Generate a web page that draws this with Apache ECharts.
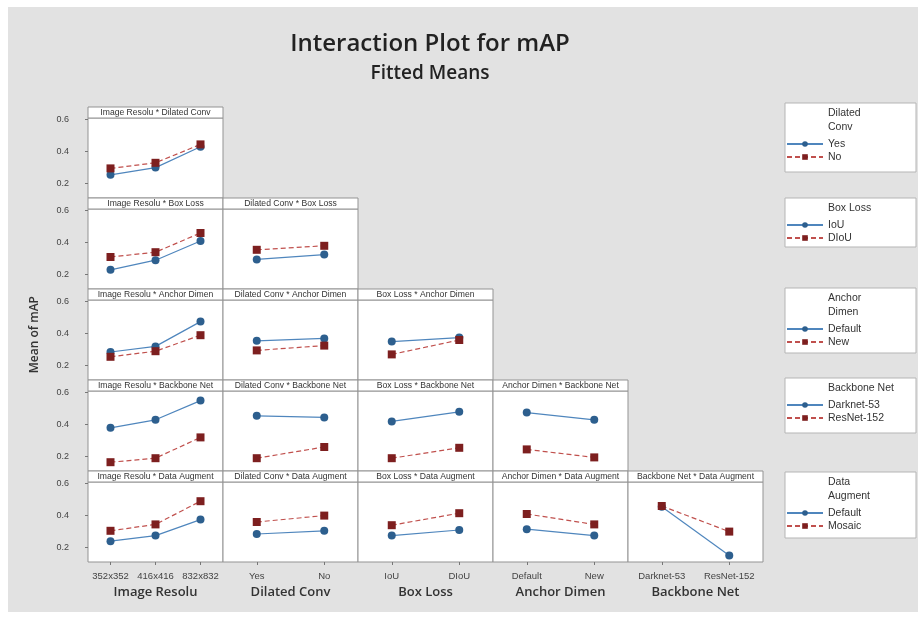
<!DOCTYPE html>
<html>
<head>
<meta charset="utf-8">
<title>Interaction Plot for mAP</title>
<script src="https://cdn.jsdelivr.net/npm/echarts@6/dist/echarts.min.js"></script>
<style>
  html, body { margin: 0; padding: 0; background: #fff; }
  #main { width: 918px; height: 620px; }
</style>
</head>
<body>
<div id="main"></div>
<script>
// factor levels
const imageResolu = ['352x352', '416x416', '832x832']
const dilatedConv = ['Yes', 'No']
const boxLoss = ['IoU', 'DIoU']
const anchorDimen = ['Default', 'New']
const backboneNet = ['Darknet-53', 'ResNet-152']
const dataAugment = ['Default', 'Mosaic']

// fitted means: [first level of trace factor, second level]
const resoDilated = [[0.255, 0.30, 0.43], [0.295, 0.33, 0.445]]

const resoBox = [[0.23, 0.29, 0.41], [0.31, 0.34, 0.46]]
const dilatedBox = [[0.295, 0.325], [0.355, 0.38]]

const resoAnchor = [[0.285, 0.32, 0.475], [0.255, 0.29, 0.39]]
const dilatedAnchor = [[0.355, 0.37], [0.295, 0.325]]
const boxAnchor = [[0.35, 0.375], [0.27, 0.36]]

const resoBackbone = [[0.38, 0.43, 0.55], [0.165, 0.19, 0.32]]
const dilatedBackbone = [[0.455, 0.445], [0.19, 0.26]]
const boxBackbone = [[0.42, 0.48], [0.19, 0.255]]
const anchorBackbone = [[0.475, 0.43], [0.245, 0.195]]

const resoAugment = [[0.24, 0.275, 0.375], [0.305, 0.345, 0.49]]
const dilatedAugment = [[0.285, 0.305], [0.36, 0.40]]
const boxAugment = [[0.275, 0.31], [0.34, 0.415]]
const anchorAugment = [[0.315, 0.275], [0.41, 0.345]]
const backboneAugment = [[0.455, 0.15], [0.46, 0.30]]

const yTicks = [0.2, 0.4, 0.6]

const colFactors = ['Image Resolu', 'Dilated Conv', 'Box Loss', 'Anchor Dimen', 'Backbone Net']
const colLevels = [imageResolu, dilatedConv, boxLoss, anchorDimen, backboneNet]
const rowFactors = ['Dilated Conv', 'Box Loss', 'Anchor Dimen', 'Backbone Net', 'Data Augment']
const rowLevels = [dilatedConv, boxLoss, anchorDimen, backboneNet, dataAugment]
// legend titles, split like minitab does
const legendTitles = [['Dilated', 'Conv'], ['Box Loss'], ['Anchor', 'Dimen'], ['Backbone Net'], ['Data', 'Augment']]
const panelMeans = [
  [resoDilated],
  [resoBox, dilatedBox],
  [resoAnchor, dilatedAnchor, boxAnchor],
  [resoBackbone, dilatedBackbone, boxBackbone, anchorBackbone],
  [resoAugment, dilatedAugment, boxAugment, anchorAugment, backboneAugment],
]

// layout
const colLeft = 88
const colW = 135
const rowTop = 107
const rowH = 91
const headH = 11
const font = 'Liberation Sans, Arial, sans-serif'
const titleFont = 'Open Sans, Noto Sans, sans-serif'
const blue = '#2d5f8e'
const blueLine = '#4f86bd'
const red = '#7d1f1f'
const redLine = '#c0504d'
const borderCol = '#939393'

const grid = []
const xAxis = []
const yAxis = []
const series = []
const graphic = [
  // gray backdrop
  { type: 'rect', z: -10, shape: { x: 8, y: 7, width: 910, height: 605 }, style: { fill: '#e2e2e2' } },
  {
    type: 'text', left: 29, top: 296, rotation: Math.PI / 2,
    style: { text: 'Mean of mAP', font: '600 12px ' + titleFont, fill: '#333' },
  },
]

let idx = 0
for (let r = 0; r < 5; r++) {
  for (let c = 0; c <= r; c++) {
    const x0 = colLeft + c * colW
    const y0 = rowTop + r * rowH
    grid.push({
      left: x0, top: y0 + headH, width: colW, height: rowH - headH,
      show: true, backgroundColor: '#fff', borderColor: borderCol, borderWidth: 1,
    })
    // panel header
    graphic.push({
      type: 'rect', z: 5,
      shape: { x: x0, y: y0, width: colW, height: headH },
      style: { fill: '#fff', stroke: borderCol, lineWidth: 1 },
    })
    graphic.push({
      type: 'text', z: 6, x: x0 + colW / 2, y: y0 + headH / 2 + 0.5,
      style: {
        text: colFactors[c] + ' * ' + rowFactors[r], font: '8.6px ' + font, fill: '#333',
        textAlign: 'center', textVerticalAlign: 'middle',
      },
    })
    const bottom = r === 4
    xAxis.push({
      gridIndex: idx, type: 'category', data: colLevels[c], boundaryGap: true,
      axisLine: { show: false },
      axisTick: { show: bottom, alignWithLabel: true, length: 3, lineStyle: { color: '#777' } },
      axisLabel: { show: bottom, interval: 0, fontSize: 9.5, color: '#444', margin: 9, fontFamily: font },
      splitLine: { show: false },
      name: bottom ? colFactors[c] : '', nameLocation: 'middle', nameGap: 24,
      nameTextStyle: { fontSize: 13, fontWeight: 600, color: '#333', fontFamily: titleFont },
    })
    yAxis.push({
      gridIndex: idx, type: 'value', min: 0.11, max: 0.61,
      axisLine: { show: false },
      splitLine: { show: false },
      axisTick: { show: c === 0, length: 3, customValues: yTicks, lineStyle: { color: '#777' } },
      axisLabel: {
        show: c === 0, customValues: yTicks, fontSize: 9, color: '#444', margin: 19, fontFamily: font,
        formatter: v => v.toFixed(1),
      },
    })
    const means = panelMeans[r][c]
    series.push({
      name: rowLevels[r][0], type: 'line', xAxisIndex: idx, yAxisIndex: idx,
      data: means[0], symbol: 'circle', symbolSize: 8,
      itemStyle: { color: blue },
      lineStyle: { color: blueLine, width: 1.2 },
    })
    series.push({
      name: rowLevels[r][1], type: 'line', xAxisIndex: idx, yAxisIndex: idx,
      data: means[1], symbol: 'rect', symbolSize: 8,
      itemStyle: { color: red },
      lineStyle: { color: redLine, width: 1.2, type: [5, 3] },
    })
    idx++
  }
}

// legend boxes on the right, one per trace factor
const legendBox = [[103, 69], [198, 49], [288, 65], [378, 55], [472, 66]]
const legend = []
for (let r = 0; r < 5; r++) {
  const [top, h] = legendBox[r]
  graphic.push({
    type: 'rect', z: 1, shape: { x: 785, y: top, width: 131, height: h },
    style: { fill: '#fff', stroke: '#b5b5b5', lineWidth: 1 },
  })
  const lines = legendTitles[r]
  lines.forEach((t, i) => {
    graphic.push({
      type: 'text', z: 2, x: 828, y: top + 5 + i * 14,
      style: { text: t, font: '10.5px ' + font, fill: '#333' },
    })
  })
  legend.push({
    data: rowLevels[r], orient: 'vertical', left: 786,
    top: top + 7 + lines.length * 14,
    itemWidth: 36, itemHeight: 7, itemGap: 1, padding: 0,
    textStyle: { fontSize: 10.5, lineHeight: 12, color: '#333', fontFamily: font },
    selectedMode: false,
  })
}

const option = {
  backgroundColor: '#fff',
  animation: false,
  title: [
    {
      text: 'Interaction Plot for mAP', left: 425, top: 27, textAlign: 'center',
      textStyle: { fontSize: 24, fontWeight: 600, color: '#222', fontFamily: titleFont },
    },
    {
      text: 'Fitted Means', left: 425, top: 59, textAlign: 'center',
      textStyle: { fontSize: 19, fontWeight: 600, color: '#222', fontFamily: titleFont },
    },
  ],
  legend,
  grid,
  xAxis,
  yAxis,
  series,
  graphic,
}

const chart = echarts.init(document.getElementById('main'), null, { renderer: 'canvas' })
chart.setOption(option)
</script>
</body>
</html>
